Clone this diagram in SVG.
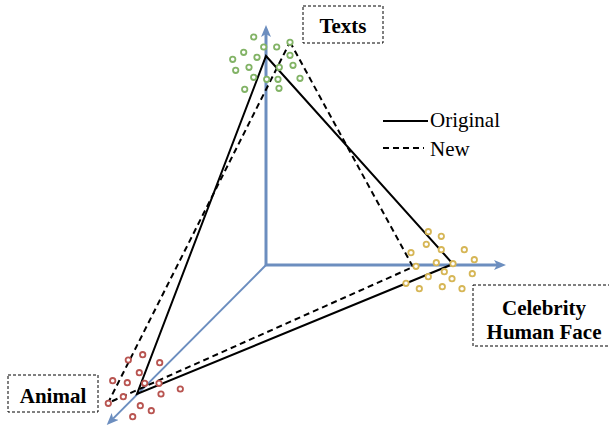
<svg xmlns="http://www.w3.org/2000/svg" width="609" height="431" viewBox="0 0 609 431">
<style>
.box{fill:#ffffff;stroke:#000000;stroke-width:1;stroke-dasharray:3 2}
.lbl{font-family:"Liberation Serif","Times New Roman",serif;font-weight:bold;font-size:21px;fill:#000000;text-anchor:middle}
.leg{font-family:"Liberation Serif","Times New Roman",serif;font-size:21px;fill:#000000}
.axis{stroke:#6c8ebf;fill:none}
.orig{stroke:#000000;stroke-width:2;fill:none}
.new{stroke:#000000;stroke-width:2;fill:none;stroke-dasharray:6 4}
.g circle{fill:#ffffff;stroke:#82b366;stroke-width:1.8}
.y circle{fill:#ffffff;stroke:#d6b656;stroke-width:1.8}
.r circle{fill:#ffffff;stroke:#b85450;stroke-width:1.8}
</style>
<defs>
<marker id="ah" viewBox="0 0 12 10" refX="3" refY="5" markerWidth="12" markerHeight="10" markerUnits="userSpaceOnUse" orient="auto">
<path d="M0,0 L12,5 L0,10 L3,5 Z" fill="#6c8ebf"/>
</marker>
</defs>
<g id="axes">
<line class="axis" x1="266" y1="266" x2="266" y2="34" stroke-width="3" marker-end="url(#ah)"/>
<line class="axis" x1="265" y1="265" x2="497" y2="265" stroke-width="3" marker-end="url(#ah)"/>
<line class="axis" x1="266" y1="265" x2="113.1" y2="418.6" stroke-width="2" marker-end="url(#ah)"/>
</g>
<g id="connectors">
<polygon class="orig" points="266,56 453,264 137,394"/>
<polygon class="new" points="290,42 413,267 108,403"/>
</g>
<g id="cluster-texts" class="g">
<circle cx="253.7" cy="37" r="2.7"/>
<circle cx="263.7" cy="47" r="2.7"/>
<circle cx="276.7" cy="47" r="2.7"/>
<circle cx="290" cy="42.3" r="2.7"/>
<circle cx="243.7" cy="52.3" r="2.7"/>
<circle cx="257" cy="57.3" r="2.7"/>
<circle cx="290" cy="55.3" r="2.7"/>
<circle cx="232.7" cy="59.3" r="2.7"/>
<circle cx="249" cy="67.3" r="2.7"/>
<circle cx="235.7" cy="70.3" r="2.7"/>
<circle cx="279.3" cy="67.3" r="2.7"/>
<circle cx="293" cy="65.3" r="2.7"/>
<circle cx="253.7" cy="77.3" r="2.7"/>
<circle cx="266.7" cy="79.3" r="2.7"/>
<circle cx="278" cy="79.3" r="2.7"/>
<circle cx="300" cy="78.3" r="2.7"/>
<circle cx="244.7" cy="89.3" r="2.7"/>
<circle cx="279" cy="88.3" r="2.7"/>
</g>
<g id="cluster-face" class="y">
<circle cx="428.3" cy="231.7" r="2.7"/>
<circle cx="441.3" cy="236.3" r="2.7"/>
<circle cx="426.3" cy="244.3" r="2.7"/>
<circle cx="441.3" cy="249.7" r="2.7"/>
<circle cx="464.3" cy="249.7" r="2.7"/>
<circle cx="411" cy="252.7" r="2.7"/>
<circle cx="474.3" cy="259.7" r="2.7"/>
<circle cx="436.3" cy="262.7" r="2.7"/>
<circle cx="453" cy="263.7" r="2.7"/>
<circle cx="416" cy="266.3" r="2.7"/>
<circle cx="444.3" cy="271.7" r="2.7"/>
<circle cx="472.3" cy="273.7" r="2.7"/>
<circle cx="428.3" cy="276.7" r="2.7"/>
<circle cx="452" cy="278.7" r="2.7"/>
<circle cx="406" cy="283.3" r="2.7"/>
<circle cx="419.3" cy="288.7" r="2.7"/>
<circle cx="442.3" cy="286.7" r="2.7"/>
<circle cx="462" cy="288.7" r="2.7"/>
</g>
<g id="cluster-animal" class="r">
<circle cx="142.7" cy="354.7" r="2.7"/>
<circle cx="128.3" cy="360" r="2.7"/>
<circle cx="159.7" cy="362.7" r="2.7"/>
<circle cx="139.3" cy="372.7" r="2.7"/>
<circle cx="112.7" cy="380.7" r="2.7"/>
<circle cx="127.3" cy="382.7" r="2.7"/>
<circle cx="144.7" cy="383.3" r="2.7"/>
<circle cx="159" cy="383.3" r="2.7"/>
<circle cx="180.3" cy="389" r="2.7"/>
<circle cx="161" cy="394" r="2.7"/>
<circle cx="123.3" cy="396.7" r="2.7"/>
<circle cx="108.3" cy="403.3" r="2.7"/>
<circle cx="140.3" cy="405.7" r="2.7"/>
<circle cx="151.3" cy="410.7" r="2.7"/>
<circle cx="132.7" cy="416.7" r="2.7"/>
</g>
<g id="node-texts">
<rect class="box" x="303" y="6" width="80" height="37"/>
<text class="lbl" x="343" y="32.5">Texts</text>
</g>
<g id="node-animal">
<rect class="box" x="8" y="375" width="90" height="37"/>
<text class="lbl" x="53" y="402.5">Animal</text>
</g>
<g id="node-face">
<rect class="box" x="473" y="285" width="142" height="61"/>
<text class="lbl" x="544" y="315">Celebrity</text>
<text class="lbl" x="544" y="338.5">Human Face</text>
</g>
<g id="legend">
<line x1="383" y1="121" x2="428" y2="121" stroke="#000000" stroke-width="2"/>
<text class="leg" x="430" y="127">Original</text>
<line x1="383" y1="148" x2="424" y2="148" stroke="#000000" stroke-width="2" stroke-dasharray="6 4"/>
<text class="leg" x="430" y="156">New</text>
</g>
</svg>
